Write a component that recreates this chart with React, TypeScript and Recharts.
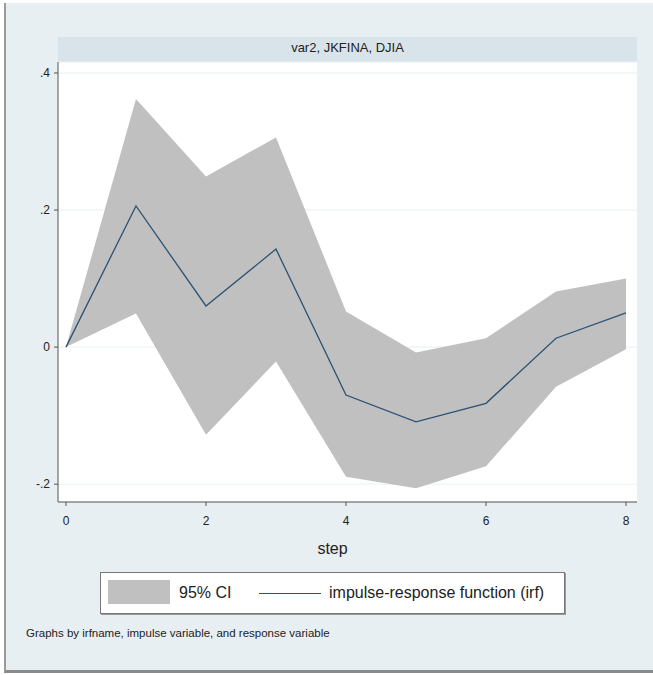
import React from 'react';
import { ComposedChart, Area, Line, XAxis, YAxis, CartesianGrid } from 'recharts';

// impulse-response values
const steps = [0, 1, 2, 3, 4, 5, 6, 7, 8];
const irf = [0, 0.206, 0.06, 0.143, -0.07, -0.109, -0.082, 0.013, 0.05];
const ciLower = [0, 0.049, -0.128, -0.021, -0.189, -0.206, -0.174, -0.058, -0.003];
const ciUpper = [0, 0.362, 0.249, 0.306, 0.052, -0.008, 0.013, 0.081, 0.1];

const xTicks = [0, 2, 4, 6, 8];
const yTicks = [-0.2, 0, 0.2, 0.4];
const yTickLabels = ['-.2', '0', '.2', '.4'];

const panelTitle = 'var2, JKFINA, DJIA';
const ciLabel = '95% CI';
const irfLabel = 'impulse-response function (irf)';
const note = 'Graphs by irfname, impulse variable, and response variable';

const data = steps.map((s, i) => ({
  step: s,
  irf: irf[i],
  ci: [ciLower[i], ciUpper[i]],
}));

const font = '"Liberation Sans", Arial, sans-serif';
const bandColor = '#c0c0c0';
const lineColor = '#2b5274';

export default function App() {
  return (
    <div style={{ position: 'relative', width: 653, height: 675, background: '#fff', fontFamily: font }}>
      <style>{'body{margin:0}'}</style>
      <div
        style={{
          position: 'absolute',
          left: 4,
          top: 3,
          width: 649,
          height: 670,
          background: '#e8eff2',
          borderLeft: '2px solid #9a9a9a',
          borderBottom: '3px solid #8a8a8a',
          boxSizing: 'border-box',
        }}
      />
      <div
        style={{
          position: 'absolute',
          left: 58,
          top: 37,
          width: 579,
          height: 25,
          background: '#d9e4ea',
          textAlign: 'center',
          lineHeight: '22px',
          fontSize: 13,
          color: '#222',
        }}
      >
        {panelTitle}
      </div>
      <div style={{ position: 'absolute', left: 0, top: 0 }}>
        <ComposedChart
          width={653}
          height={560}
          data={data}
          margin={{ top: 62, right: 16, bottom: 0, left: 0 }}
        >
          <CartesianGrid vertical={false} fill="#ffffff" stroke="#e9f0f2" />
          <XAxis
            dataKey="step"
            type="number"
            domain={[-0.114, 8.157]}
            ticks={xTicks}
            allowDataOverflow
            height={58}
            tickSize={4}
            tickMargin={10}
            tick={{ fontSize: 12, fill: '#222', fontFamily: font }}
            axisLine={{ stroke: '#555' }}
            tickLine={{ stroke: '#555' }}
            label={{ value: 'step', position: 'insideBottom', offset: 6, dx: -15, fontSize: 16, fill: '#222', fontFamily: font }}
          />
          <YAxis
            type="number"
            domain={[-0.226, 0.416]}
            ticks={yTicks}
            allowDataOverflow
            width={58}
            tickSize={4}
            tickMargin={4}
            tickFormatter={(v: number) => yTickLabels[yTicks.indexOf(v)] ?? String(v)}
            tick={{ fontSize: 12, fill: '#222', fontFamily: font }}
            axisLine={{ stroke: '#555' }}
            tickLine={{ stroke: '#555' }}
          />
          <Area
            type="linear"
            dataKey="ci"
            fill={bandColor}
            fillOpacity={1}
            stroke="none"
            isAnimationActive={false}
          />
          <Line
            type="linear"
            dataKey="irf"
            stroke={lineColor}
            strokeWidth={1.3}
            dot={false}
            activeDot={false}
            isAnimationActive={false}
          />
        </ComposedChart>
      </div>
      <div
        style={{
          position: 'absolute',
          left: 100,
          top: 572,
          width: 465,
          height: 42,
          background: '#fff',
          border: '1px solid #777',
          boxShadow: '1px 1px 0 #999',
          boxSizing: 'border-box',
          fontSize: 16,
          color: '#222',
        }}
      >
        <div style={{ position: 'absolute', left: 7, top: 7, width: 62, height: 24, background: bandColor }} />
        <div style={{ position: 'absolute', left: 78, top: 10, lineHeight: '20px' }}>{ciLabel}</div>
        <div style={{ position: 'absolute', left: 158, top: 20, width: 62, height: 0, borderTop: `1.5px solid ${lineColor}` }} />
        <div style={{ position: 'absolute', left: 228, top: 10, lineHeight: '20px' }}>{irfLabel}</div>
      </div>
      <div style={{ position: 'absolute', left: 26, top: 627, fontSize: 11.5, color: '#222' }}>{note}</div>
    </div>
  );
}
